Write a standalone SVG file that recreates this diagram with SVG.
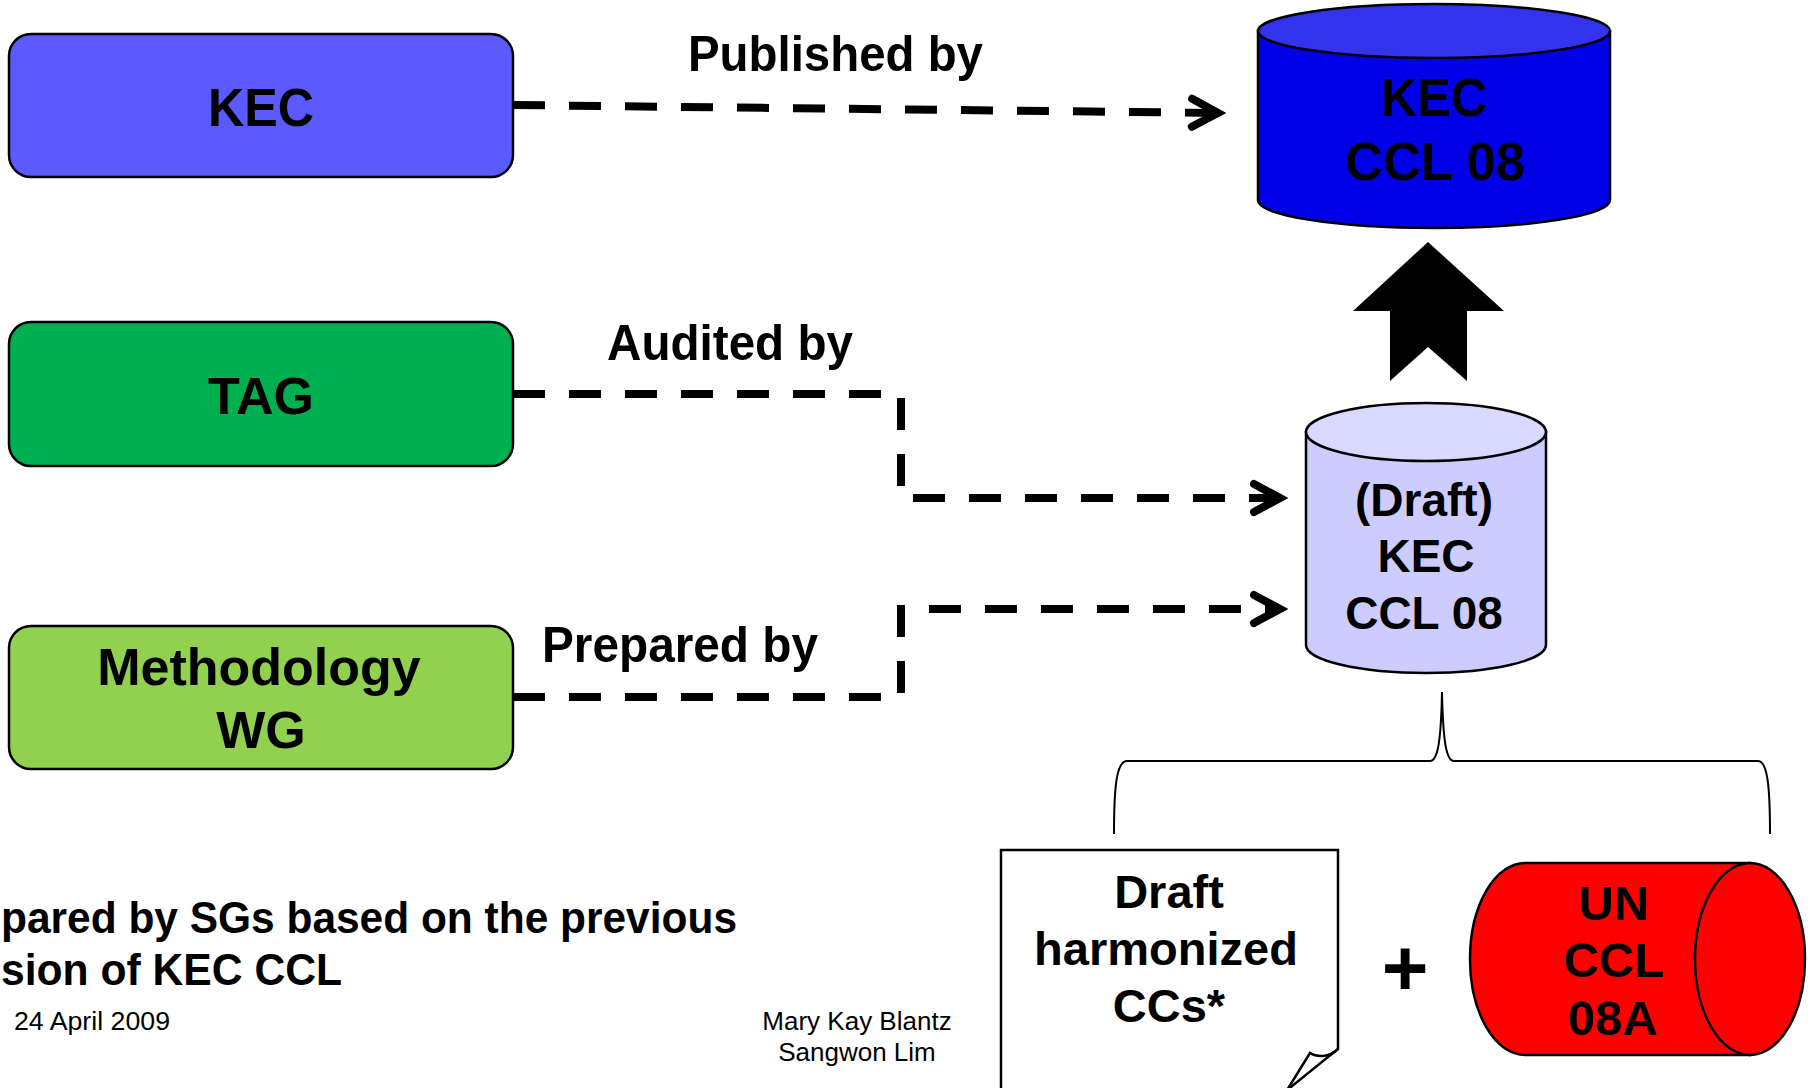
<svg xmlns="http://www.w3.org/2000/svg" width="1817" height="1088" viewBox="0 0 1817 1088">
<style>
.t{font-family:"Liberation Sans",Arial,sans-serif;font-weight:bold;fill:#000}
.r{font-family:"Liberation Sans",Arial,sans-serif;font-weight:normal;fill:#000}
.box{stroke:#000;stroke-width:2.5}
.dash{fill:none;stroke:#000;stroke-width:8;stroke-dasharray:32 24;stroke-linecap:butt;marker-end:url(#chev)}
.ol{stroke:#000;stroke-width:2.5}
</style>
<defs>
<marker id="chev" markerUnits="userSpaceOnUse" viewBox="-40 -30 60 60" markerWidth="60" markerHeight="60" refX="0" refY="0" orient="auto" overflow="visible">
<path d="M-26,-14 L0,0 L-26,14" fill="none" stroke="#000" stroke-width="8" stroke-dasharray="none" stroke-linecap="round" stroke-linejoin="miter"/>
</marker>
</defs>
<rect width="1817" height="1088" fill="#fff"/>

<g id="connectors">
<path class="dash" d="M513,105 L1218,113"/>
<path class="dash" d="M513,394 H901 V498 H1280"/>
<path class="dash" d="M513,697 H901 V609 H1280"/>
<polygon id="up-arrow" points="1428,242 1504,311 1467,311 1467,381 1428,347 1390,381 1390,311 1353,311" fill="#000"/>
<path id="brace" d="M1114,834 C1114,790 1116,761 1127,761 L1430,761 C1438,761 1441,740 1442,692 C1443,740 1446,761 1454,761 L1758,761 C1768,761 1770,790 1770,834" fill="none" stroke="#000" stroke-width="2"/>
<text class="t" x="688" y="71" font-size="50" textLength="295" lengthAdjust="spacingAndGlyphs">Published by</text>
<text class="t" x="607" y="360" font-size="50" textLength="246" lengthAdjust="spacingAndGlyphs">Audited by</text>
<text class="t" x="542" y="662" font-size="50" textLength="276" lengthAdjust="spacingAndGlyphs">Prepared by</text>
</g>

<g id="kec">
<rect class="box" x="9" y="34" width="504" height="143" rx="22" fill="#5A5AFF"/>
<text class="t" x="261" y="126" font-size="53" text-anchor="middle" textLength="106" lengthAdjust="spacingAndGlyphs">KEC</text>
</g>

<g id="tag">
<rect class="box" x="9" y="322" width="504" height="144" rx="22" fill="#00B050"/>
<text class="t" x="261" y="414" font-size="52" text-anchor="middle">TAG</text>
</g>

<g id="methodology-wg">
<rect class="box" x="9" y="626" width="504" height="143" rx="22" fill="#92D050"/>
<text class="t" x="259" y="685" font-size="52" text-anchor="middle">Methodology</text>
<text class="t" x="261" y="748" font-size="52" text-anchor="middle">WG</text>
</g>

<g id="kec-ccl-08">
<path class="ol" d="M1258,31 V200 A176,28 0 0 0 1610,200 V31 Z" fill="#0000E6"/>
<ellipse class="ol" cx="1434" cy="31" rx="176" ry="27" fill="#3333EE"/>
<text class="t" x="1434" y="116" font-size="53" text-anchor="middle" textLength="106" lengthAdjust="spacingAndGlyphs">KEC</text>
<text class="t" x="1435" y="180" font-size="53" text-anchor="middle" textLength="180" lengthAdjust="spacingAndGlyphs">CCL 08</text>
</g>

<g id="draft-kec-ccl-08">
<path class="ol" d="M1306,432 V645 A120,28 0 0 0 1546,645 V432 Z" fill="#CCCCFF"/>
<ellipse class="ol" cx="1426" cy="432" rx="120" ry="29" fill="#D9D9FF"/>
<text class="t" x="1424" y="516" font-size="46" text-anchor="middle">(Draft)</text>
<text class="t" x="1426" y="572" font-size="46" text-anchor="middle">KEC</text>
<text class="t" x="1424" y="629" font-size="46" text-anchor="middle">CCL 08</text>
</g>

<g id="draft-harmonized-ccs">
<path class="ol" d="M1001,1095 V850 H1338 V1049 L1281,1095" fill="#fff"/>
<path class="ol" d="M1338,1049 C1330,1057 1318,1058 1310,1053 L1284,1095" fill="none" stroke-width="2"/>
<text class="t" x="1169" y="908" font-size="47" text-anchor="middle">Draft</text>
<text class="t" x="1166" y="965" font-size="47" text-anchor="middle">harmonized</text>
<text class="t" x="1169" y="1022" font-size="47" text-anchor="middle">CCs*</text>
</g>

<text id="plus" class="t" x="1405" y="995" font-size="80" text-anchor="middle">+</text>

<g id="un-ccl-08a">
<path class="ol" d="M1750,863 H1525 A55,96 0 0 0 1525,1055 H1750 Z" fill="#FF0000"/>
<ellipse class="ol" cx="1750" cy="959" rx="55" ry="96" fill="#FF0000"/>
<text class="t" x="1614" y="920" font-size="49" text-anchor="middle">UN</text>
<text class="t" x="1614" y="977" font-size="49" text-anchor="middle">CCL</text>
<text class="t" x="1613" y="1035" font-size="49" text-anchor="middle">08A</text>
</g>

<g id="footer">
<text class="t" x="1" y="933" font-size="44" textLength="736" lengthAdjust="spacingAndGlyphs">pared by SGs based on the previous</text>
<text class="t" x="1" y="985" font-size="44" textLength="341" lengthAdjust="spacingAndGlyphs">sion of KEC CCL</text>
<text class="r" x="14" y="1030" font-size="26" textLength="156" lengthAdjust="spacingAndGlyphs">24 April 2009</text>
<text class="r" x="857" y="1030" font-size="26" text-anchor="middle">Mary Kay Blantz</text>
<text class="r" x="857" y="1061" font-size="26" text-anchor="middle">Sangwon Lim</text>
</g>
</svg>
